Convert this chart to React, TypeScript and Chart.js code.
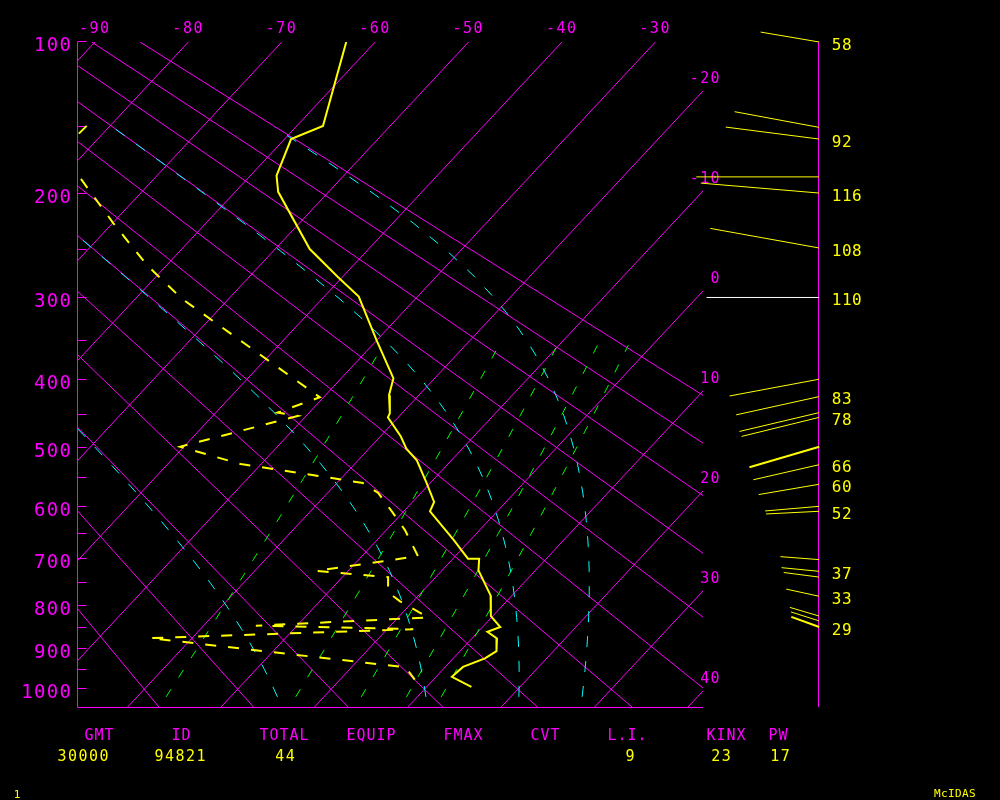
import React, { useEffect, useRef } from 'react';
import { Chart, registerables, LinearScale } from 'chart.js';

Chart.register(...registerables);

// ---------------- data ----------------
const PRESSURE_TICKS = [100, 200, 300, 400, 500, 600, 700, 800, 900, 1000];
const PRESSURE_MINOR_TICKS = [150, 250, 350, 450, 550, 650, 750, 850, 950];
const TOP_ISOTHERM_LABELS = [-90, -80, -70, -60, -50, -40, -30];
const RIGHT_ISOTHERM_LABELS = [-20, -10, 0, 10, 20, 30, 40];
const ISOTHERMS = [-90, -80, -70, -60, -50, -40, -30, -20, -10, 0, 10, 20, 30, 40];
const DRY_ADIABATS = [-20, -10, 0, 10, 20, 30, 40, 50, 60, 70, 80, 90];
const MOIST_ADIABATS = [0, 30, 60, 90];
const MIXING_RATIOS = [1, 3, 5, 7, 9];
const GUIDE_LEVELS = [1020, 1000, 975, 950, 925, 900, 875, 850, 825, 800, 775, 750, 725, 700, 675, 650, 625, 600, 575, 550, 525, 500, 475, 450, 425, 400, 375, 350, 325, 300, 275, 250, 225, 200, 175, 150];
const MIXING_LEVELS = [1020, 1000, 950, 900, 850, 800, 750, 700, 650, 600, 550, 500, 450, 400, 355];

// temperature profile (hPa, °C)
const TEMP_P = [100, 149, 158, 185, 198, 249, 277, 298, 349, 398, 421, 447, 453, 482, 501, 520, 559, 591, 608, 662, 699, 699, 723, 776, 822, 847, 858, 874, 904, 922, 943, 968, 994];
const TEMP_T = [-63.1, -57.2, -59.3, -57.2, -55.4, -46.3, -40.5, -36.3, -30.0, -24.4, -23.2, -21.3, -21.1, -17.8, -16.0, -13.7, -10.3, -7.7, -7.2, -1.8, 1.6, 2.8, 3.9, 7.7, 9.8, 11.9, 11.0, 12.7, 13.9, 13.4, 11.9, 11.7, 14.8];

// dew point profile (hPa, °C)
const DEW_P = [149, 166, 189, 225, 265, 300, 351, 424, 446, 451, 498, 526, 551, 558, 575, 610, 643, 694, 724, 737, 769, 789, 825, 844, 852, 873, 944, 975];
const DEW_T = [-82.5, -82.7, -77.5, -69.9, -62.1, -55.1, -44.2, -30.4, -33.4, -30.9, -40.4, -32.2, -20.3, -17.2, -14.6, -11.1, -8.0, -4.0, -13.4, -5.1, -3.6, -1.4, 3.2, -14.4, 2.8, -24.5, 5.8, 8.0];

// winds
const WIND_P = [100, 150, 158, 186, 199, 248, 299, 399, 423, 446, 453, 498, 527, 560, 599, 608, 701, 725, 737, 778, 822, 833, 847];
const WIND_SPEED = [58, 84, 92, 120, 116, 108, 110, 89, 83, 80, 78, 71, 66, 60, 53, 52, 38, 37, 35, 33, 30, 29, 29];
const WIND_DIR = [279.6, 280.5, 277.3, 270, 274.8, 280.2, 270, 259.4, 257.6, 256.7, 256.2, 253.6, 257.1, 260.3, 265.1, 267.1, 274.4, 275.6, 277.4, 282.3, 286.5, 287.6, 289.9];
const WIND_LABELED = [1, 0, 1, 0, 1, 1, 1, 0, 1, 0, 1, 0, 1, 1, 0, 1, 0, 1, 0, 1, 0, 0, 1];

// station summary
const STAT_LABELS = ['GMT', 'ID', 'TOTAL', 'EQUIP', 'FMAX', 'CVT', 'L.I.', 'KINX', 'PW'];
const STAT_VALUES = ['30000', '94821', '44', '', '', '', '9', '23', '17'];

// ---------------- layout / style ----------------
const STAT_LABEL_X = [99, 181, 284, 371, 463, 545, 627, 726, 778];
const STAT_VALUE_X = [83, 180, 285, 371, 463, 545, 630, 721, 780];
const WIND_COLUMN_X = -12.45; // skewed-temperature units
const WIND_PX_PER_KT = 1.025;
const WIND_WHITE = [299];
const WIND_BOLD = [498, 847];

const MAGENTA = '#ff00ff';
const YELLOW = '#ffff00';
const CYAN = '#00ffff';
const GREEN = '#00ff00';
const FONT = '"DejaVu Sans Mono", "Liberation Mono", monospace';

const KAPPA = 0.286;
const P_TOP = 100;
const P_BOTTOM = 1047;
const SKEW = 64.73;
const X_MIN = -91.82;
const X_MAX = -24.9;

const A0 = Math.pow(100, KAPPA);
const A1 = Math.pow(1000, KAPPA);
function h(p: number) {
  return (Math.pow(p, KAPPA) - A0) / (A1 - A0);
}
function skewX(T: number, p: number) {
  return T - SKEW * h(p);
}
function satVap(tc: number) {
  return 6.112 * Math.exp((17.67 * tc) / (tc + 243.5));
}
function thetaE(tc: number, p: number) {
  const tk = tc + 273.15;
  const e = satVap(tc);
  const r = (0.622 * e) / (p - e);
  return tk * Math.pow(1000 / p, KAPPA) * Math.exp((2.5e6 * r) / (1004 * tk));
}
function moistT(thetaC: number, p: number) {
  const target = thetaC + 273.15;
  let lo = -130;
  let hi = 40;
  for (let i = 0; i < 60; i++) {
    const mid = (lo + hi) / 2;
    if (thetaE(mid, p) < target) lo = mid;
    else hi = mid;
  }
  return (lo + hi) / 2;
}
function mixT(w: number, p: number) {
  const e = (w * p) / (622 + w);
  const L = Math.log(e / 6.112);
  return (243.5 * L) / (17.67 - L);
}
function dryT(theta: number, p: number) {
  return (theta + 273.15) * Math.pow(p / 1000, KAPPA) - 273.15;
}

class PowerScale extends LinearScale {
  static id = 'power';
  getPixelForValue(value: number) {
    const a = Math.pow(this.min, KAPPA);
    const b = Math.pow(this.max, KAPPA);
    return this.getPixelForDecimal((Math.pow(value, KAPPA) - a) / (b - a));
  }
  getValueForPixel(pixel: number) {
    const a = Math.pow(this.min, KAPPA);
    const b = Math.pow(this.max, KAPPA);
    const d = this.getDecimalForPixel(pixel);
    return Math.pow(a + d * (b - a), 1 / KAPPA);
  }
}
Chart.register(PowerScale as any);

function lineDs(data: { x: number; y: number }[], color: string, width: number, dash: number[], order: number) {
  return {
    data,
    borderColor: color,
    backgroundColor: color,
    borderWidth: width,
    borderDash: dash,
    borderCapStyle: 'butt',
    borderJoinStyle: 'miter',
    pointRadius: 0,
    showLine: true,
    fill: false,
    tension: 0,
    order,
  };
}

function buildDatasets() {
  const ds: any[] = [];
  ds.push(lineDs(TEMP_P.map((p, i) => ({ x: skewX(TEMP_T[i], p), y: p })), YELLOW, 2, [], 0));
  ds.push(lineDs(DEW_P.map((p, i) => ({ x: skewX(DEW_T[i], p), y: p })), YELLOW, 2, [11, 12], 1));
  MOIST_ADIABATS.forEach((th) =>
    ds.push(lineDs(GUIDE_LEVELS.map((p) => ({ x: skewX(moistT(th, p), p), y: p })), CYAN, 1, [11, 14], 2))
  );
  MIXING_RATIOS.forEach((w) =>
    ds.push(lineDs(MIXING_LEVELS.map((p) => ({ x: skewX(mixT(w, p), p), y: p })), GREEN, 1, [9, 14], 3))
  );
  ISOTHERMS.forEach((T) =>
    ds.push(lineDs([100, 1050].map((p) => ({ x: skewX(T, p), y: p })), MAGENTA, 1, [], 4))
  );
  DRY_ADIABATS.forEach((th) =>
    ds.push(lineDs([100, 1050].map((p) => ({ x: skewX(dryT(th, p), p), y: p })), MAGENTA, 1, [], 4))
  );
  return ds;
}

function drawText(ctx: any, s: string, x: number, y: number, size: number, color: string, align: string, spacing: number) {
  ctx.font = `${size}px ${FONT}`;
  ctx.fillStyle = color;
  ctx.textAlign = align;
  ctx.textBaseline = 'alphabetic';
  try {
    ctx.letterSpacing = `${spacing}px`;
  } catch (e) {}
  const shift = align === 'right' ? spacing : align === 'center' ? spacing / 2 : 0;
  ctx.fillText(s, x + shift, y);
}

const decorPlugin = {
  id: 'skewtDecor',
  beforeDatasetsDraw(chart: any) {
    const ctx = chart.ctx;
    const ys = chart.scales.y;
    const area = chart.chartArea;
    ctx.save();
    ctx.strokeStyle = MAGENTA;
    ctx.lineWidth = 1;
    ctx.beginPath();
    const lx = Math.round(area.left) - 0.5;
    const by = Math.round(area.bottom) + 0.5;
    ctx.moveTo(lx, Math.round(area.top));
    ctx.lineTo(lx, by);
    ctx.lineTo(Math.round(area.right), by);
    [...PRESSURE_TICKS, ...PRESSURE_MINOR_TICKS].forEach((p) => {
      const y = Math.round(ys.getPixelForValue(p)) - 0.5;
      ctx.moveTo(lx, y);
      ctx.lineTo(lx + 9, y);
    });
    ctx.stroke();
    ctx.restore();
  },
  afterDatasetsDraw(chart: any) {
    const ctx = chart.ctx;
    const xs = chart.scales.x;
    const ys = chart.scales.y;
    const area = chart.chartArea;
    ctx.save();

    // pressure labels
    PRESSURE_TICKS.forEach((p) => {
      const y = ys.getPixelForValue(p);
      drawText(ctx, String(p), area.left - 7, y + 9, 19, MAGENTA, 'right', 1.3);
    });

    // isotherm labels along the top
    TOP_ISOTHERM_LABELS.forEach((T) => {
      const x = xs.getPixelForValue(skewX(T, P_TOP));
      drawText(ctx, String(T), x - 1, area.top - 9, 15, MAGENTA, 'center', 1.5);
    });

    // isotherm labels along the right edge
    RIGHT_ISOTHERM_LABELS.forEach((T) => {
      const hh = (T - X_MAX) / SKEW;
      const p = Math.pow(A0 + hh * (A1 - A0), 1 / KAPPA);
      const y = ys.getPixelForValue(p);
      drawText(ctx, String(T), area.right + 16.5, y - 8.3, 15, MAGENTA, 'right', 1.3);
    });

    // wind column
    const x0 = xs.getPixelForValue(WIND_COLUMN_X);
    const sx = Math.round(x0) - 0.5;
    ctx.strokeStyle = MAGENTA;
    ctx.lineWidth = 1;
    ctx.beginPath();
    ctx.moveTo(sx, ys.getPixelForValue(P_TOP));
    ctx.lineTo(sx, ys.getPixelForValue(P_BOTTOM));
    ctx.stroke();

    WIND_P.forEach((p, i) => {
      const y0 = ys.getPixelForValue(p);
      const len = WIND_SPEED[i] * WIND_PX_PER_KT;
      const rad = (WIND_DIR[i] * Math.PI) / 180;
      const x1 = x0 + Math.sin(rad) * len;
      const y1 = y0 - Math.cos(rad) * len;
      ctx.strokeStyle = WIND_WHITE.includes(p) ? '#ffffff' : YELLOW;
      ctx.lineWidth = WIND_BOLD.includes(p) ? 2 : 1;
      ctx.beginPath();
      ctx.moveTo(x0, y0);
      ctx.lineTo(x1, y1);
      ctx.stroke();
      if (WIND_LABELED[i]) {
        drawText(ctx, String(WIND_SPEED[i]), x0 + 12.5, y0 + 7.5, 16, YELLOW, 'left', 0.5);
      }
    });

    // station summary
    STAT_LABELS.forEach((s, i) => drawText(ctx, s, STAT_LABEL_X[i], 740, 15, MAGENTA, 'center', 1));
    STAT_VALUES.forEach((s, i) => {
      if (s) drawText(ctx, s, STAT_VALUE_X[i], 760.5, 15, YELLOW, 'center', 1.5);
    });
    drawText(ctx, '1', 17, 797.5, 11, YELLOW, 'center', 0);
    drawText(ctx, 'McIDAS', 934, 796.5, 11, YELLOW, 'left', 0.4);

    ctx.restore();
  },
};

export default function App() {
  const ref = useRef<HTMLCanvasElement>(null);
  useEffect(() => {
    if (!ref.current) return;
    const chart = new Chart(ref.current, {
      type: 'scatter',
      data: { datasets: buildDatasets() },
      options: {
        animation: false,
        responsive: false,
        maintainAspectRatio: false,
        devicePixelRatio: 1,
        events: [],
        layout: { padding: { left: 78, top: 42, right: 297, bottom: 93 } },
        plugins: { legend: { display: false }, tooltip: { enabled: false } },
        scales: {
          x: { type: 'linear', display: false, min: X_MIN, max: X_MAX, bounds: 'data' },
          y: { type: 'power', display: false, min: P_TOP, max: P_BOTTOM, reverse: true, bounds: 'data' },
        },
      } as any,
      plugins: [decorPlugin as any],
    });
    return () => chart.destroy();
  }, []);
  return (
    <div style={{ position: 'fixed', left: 0, top: 0, width: 1000, height: 800, background: '#000' }}>
      <canvas ref={ref} width={1000} height={800} style={{ display: 'block', width: 1000, height: 800 }} />
    </div>
  );
}
